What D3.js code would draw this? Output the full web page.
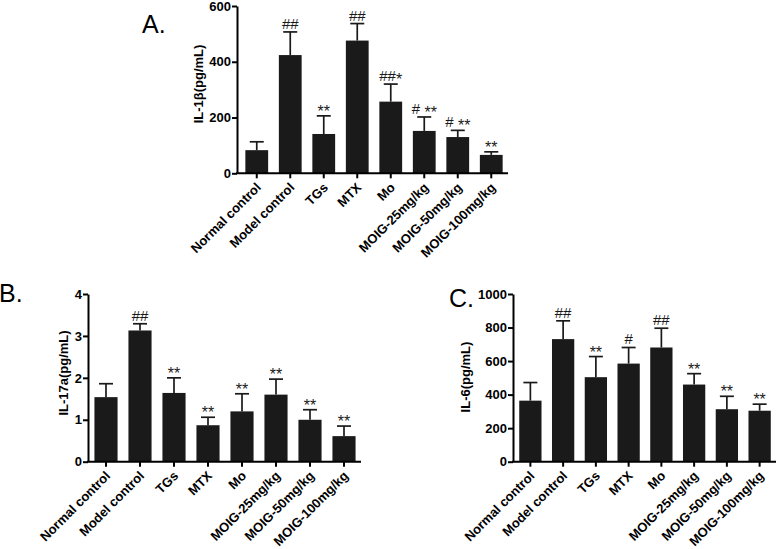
<!DOCTYPE html>
<html>
<head>
<meta charset="utf-8">
<script src="https://cdn.jsdelivr.net/npm/d3@7/dist/d3.min.js"></script>
<style>
  body { margin: 0; background: #fff; }
  svg { display: block; font-family: "Liberation Sans", Arial, sans-serif; }
</style>
</head>
<body>
<script>
// group names shared by all three panels
const groups = ["Normal control", "Model control", "TGs", "MTX", "Mo",
  "MOIG-25mg/kg", "MOIG-50mg/kg", "MOIG-100mg/kg"];

// A. IL-1beta
const il1bMean = [83, 424, 141, 476, 257, 152, 130, 66];
const il1bSd = [30, 83, 65, 61, 63, 50, 24, 11];
const il1bHash = ["", "##", "", "##", "##", "#", "#", ""];
const il1bStar = ["", "", "**", "", "*", "**", "**", "**"];
const il1bTicks = [0, 200, 400, 600];

// B. IL-17a
const il17Mean = [1.54, 3.13, 1.64, 0.87, 1.20, 1.60, 1.00, 0.61];
const il17Sd = [0.32, 0.16, 0.36, 0.19, 0.42, 0.37, 0.24, 0.24];
const il17Hash = ["", "##", "", "", "", "", "", ""];
const il17Star = ["", "", "**", "**", "**", "**", "**", "**"];
const il17Ticks = [0, 1, 2, 3, 4];

// C. IL-6
const il6Mean = [364, 731, 504, 585, 681, 460, 313, 304];
const il6Sd = [108, 109, 123, 96, 115, 65, 77, 39];
const il6Hash = ["", "##", "", "#", "##", "", "", ""];
const il6Star = ["", "", "**", "", "", "**", "**", "**"];
const il6Ticks = [0, 200, 400, 600, 800, 1000];

const W = 778, H = 549;
const ink = "#1a1a1a";

const svg = d3.select("body").append("svg")
  .attr("width", W)
  .attr("height", H);

const panels = [
  { letter: "A.", title: "IL-1\u03b2(pg/mL)", mean: il1bMean, sd: il1bSd, hash: il1bHash, star: il1bStar,
    ticks: il1bTicks, axisX: 237, x0: 240, x1: 508, yBase: 173.3, yTop: 6,
    letterX: 142, letterY: 33, titleX: 198, titleY: 84 },
  { letter: "B.", title: "IL-17a(pg/mL)", mean: il17Mean, sd: il17Sd, hash: il17Hash, star: il17Star,
    ticks: il17Ticks, axisX: 88, x0: 89, x1: 361, yBase: 461.7, yTop: 294,
    letterX: -1, letterY: 302, titleX: 63, titleY: 373 },
  { letter: "C.", title: "IL-6(pg/mL)", mean: il6Mean, sd: il6Sd, hash: il6Hash, star: il6Star,
    ticks: il6Ticks, axisX: 513, x0: 514, x1: 776, yBase: 461.7, yTop: 294,
    letterX: 449, letterY: 307, titleX: 465, titleY: 377 }
];

panels.forEach(p => {
  const g = svg.append("g");
  const rows = groups.map((name, i) => ({
    name, mean: p.mean[i], sd: p.sd[i], hash: p.hash[i], star: p.star[i]
  }));

  const x = d3.scaleBand()
    .domain(groups)
    .range([p.x0, p.x1])
    .paddingInner(0.32)
    .paddingOuter(0.16);

  const y = d3.scaleLinear()
    .domain([0, d3.max(p.ticks)])
    .range([p.yBase, p.yTop]);

  // bars
  g.append("g").selectAll("rect")
    .data(rows)
    .enter()
    .append("rect")
    .attr("x", d => x(d.name))
    .attr("y", d => y(d.mean))
    .attr("width", x.bandwidth())
    .attr("height", d => y(0) - y(d.mean))
    .attr("fill", ink);

  // upper error bars
  const cap = 7;
  const err = g.append("g").attr("stroke", ink).attr("stroke-width", 1.7);
  err.selectAll(".stem")
    .data(rows)
    .enter()
    .append("line")
    .attr("x1", d => x(d.name) + x.bandwidth() / 2)
    .attr("x2", d => x(d.name) + x.bandwidth() / 2)
    .attr("y1", d => y(d.mean))
    .attr("y2", d => y(d.mean + d.sd));
  err.selectAll(".cap")
    .data(rows)
    .enter()
    .append("line")
    .attr("x1", d => x(d.name) + x.bandwidth() / 2 - cap)
    .attr("x2", d => x(d.name) + x.bandwidth() / 2 + cap)
    .attr("y1", d => y(d.mean + d.sd))
    .attr("y2", d => y(d.mean + d.sd));

  // significance marks
  const marks = g.append("g").selectAll("text")
    .data(rows.filter(d => d.hash || d.star))
    .enter()
    .append("text")
    .attr("x", d => x(d.name) + x.bandwidth() / 2)
    .attr("y", d => y(d.mean + d.sd) - 3)
    .attr("text-anchor", "middle")
    .attr("font-size", "15px")
    .attr("fill", ink);
  marks.append("tspan").text(d => d.hash);
  marks.filter(d => d.star)
    .append("tspan")
    .attr("dy", "4")
    .attr("font-size", "16px")
    .text(d => (d.hash && d.star.length > 1 ? " " : "") + d.star);

  // y axis
  const yAxis = d3.axisLeft(y)
    .tickValues(p.ticks)
    .tickFormat(d3.format("d"))
    .tickSize(5)
    .tickSizeOuter(0);
  const ya = g.append("g")
    .attr("transform", "translate(" + p.axisX + ",0)")
    .call(yAxis);
  ya.select(".domain").attr("stroke", "#000").attr("stroke-width", 2);
  ya.selectAll(".tick line").attr("stroke", "#000").attr("stroke-width", 2);
  ya.selectAll(".tick text")
    .attr("x", -6)
    .attr("font-size", "13px")
    .attr("font-weight", "bold")
    .attr("font-family", "Liberation Sans, Arial, sans-serif")
    .attr("fill", "#000");

  // x axis
  const xAxis = d3.axisBottom(x).tickSize(5).tickSizeOuter(0);
  const xa = g.append("g")
    .attr("transform", "translate(0," + p.yBase + ")")
    .call(xAxis);
  xa.select(".domain").remove();
  xa.selectAll(".tick line").attr("stroke", "#000").attr("stroke-width", 2);
  xa.selectAll(".tick text")
    .attr("text-anchor", "end")
    .attr("transform", "translate(5,15) rotate(-45)")
    .attr("x", 0)
    .attr("y", 0)
    .attr("dy", 0)
    .attr("font-size", "13px")
    .attr("font-weight", "bold")
    .attr("font-family", "Liberation Sans, Arial, sans-serif")
    .attr("fill", "#000");
  g.append("line")
    .attr("x1", p.axisX - 1)
    .attr("x2", p.x1)
    .attr("y1", p.yBase)
    .attr("y2", p.yBase)
    .attr("stroke", "#000")
    .attr("stroke-width", 2);

  // y title
  g.append("text")
    .attr("transform", "translate(" + p.titleX + "," + p.titleY + ") rotate(-90)")
    .attr("text-anchor", "middle")
    .attr("dy", "0.35em")
    .attr("font-size", "13px")
    .attr("font-weight", "bold")
    .attr("fill", "#000")
    .text(p.title);

  // panel letter
  g.append("text")
    .attr("x", p.letterX)
    .attr("y", p.letterY)
    .attr("font-size", "25px")
    .attr("fill", "#000")
    .text(p.letter);
});
</script>
</body>
</html>
